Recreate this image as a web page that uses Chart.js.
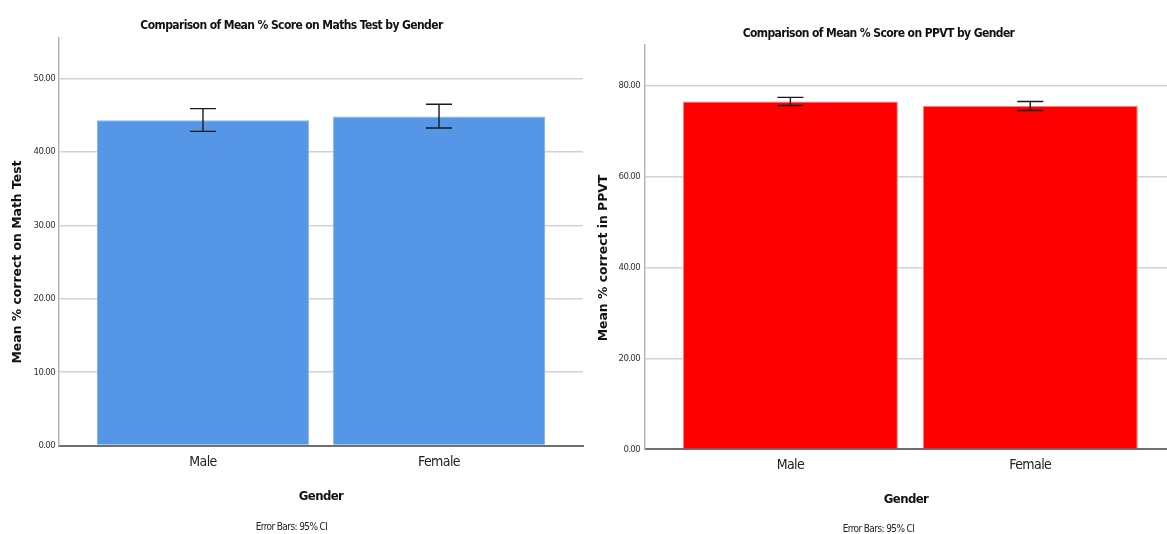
<!DOCTYPE html>
<html>
<head>
<meta charset="utf-8">
<script src="https://cdn.jsdelivr.net/npm/chart.js@4.4.1/dist/chart.umd.min.js"></script>
<style>
  html, body { margin: 0; padding: 0; background: #fff; }
  body { width: 1167px; height: 534px; position: relative; overflow: hidden; }
  .box { position: absolute; top: 0; height: 534px; }
  #boxA { left: 0; width: 590px; }
  #boxB { left: 590px; width: 577px; }
</style>
</head>
<body>
<div class="box" id="boxA"><canvas id="chartA"></canvas></div>
<div class="box" id="boxB"><canvas id="chartB"></canvas></div>
<script>
// ---------- data ----------
const categories = ['Male', 'Female'];

const mathMeans  = [44.30, 44.84];
const mathCILow  = [42.80, 43.26];
const mathCIHigh = [45.90, 46.50];
const mathTicks  = [0, 10, 20, 30, 40, 50];
const mathTickLabels = ['0.00', '10.00', '20.00', '30.00', '40.00', '50.00'];

const ppvtMeans  = [76.50, 75.50];
const ppvtCILow  = [75.60, 74.50];
const ppvtCIHigh = [77.40, 76.50];
const ppvtTicks  = [0, 20, 40, 60, 80];
const ppvtTickLabels = ['0.00', '20.00', '40.00', '60.00', '80.00'];

// ---------- styling ----------
const NARROW = "'Liberation Sans Narrow', 'DejaVu Sans Condensed', 'Roboto Condensed', 'Liberation Sans', sans-serif";
const WIDE = "'DejaVu Sans', Verdana, sans-serif";

const tightTextPlugin = {
  id: 'tightText',
  beforeDraw(chart) { try { chart.ctx.letterSpacing = '-0.6px'; } catch (e) {} },
  afterDraw(chart) { try { chart.ctx.letterSpacing = '0px'; } catch (e) {} }
};

const errorBarsPlugin = {
  id: 'errorBars',
  afterDatasetsDraw(chart, args, opts) {
    const { ctx, scales: { x, y } } = chart;
    ctx.save();
    ctx.strokeStyle = opts.color;
    ctx.lineWidth = opts.lineWidth;
    opts.low.forEach((lo, i) => {
      const px = x.getPixelForValue(i);
      const yl = y.getPixelForValue(lo);
      const yh = y.getPixelForValue(opts.high[i]);
      const hw = opts.capWidth / 2;
      ctx.beginPath();
      ctx.moveTo(px, yl); ctx.lineTo(px, yh);
      ctx.moveTo(px - hw, yl); ctx.lineTo(px + hw, yl);
      ctx.moveTo(px - hw, yh); ctx.lineTo(px + hw, yh);
      ctx.stroke();
    });
    ctx.restore();
  }
};

const yTitlePlugin = {
  id: 'yTitle',
  afterDraw(chart, args, opts) {
    const { ctx } = chart;
    ctx.save();
    try { ctx.letterSpacing = '0px'; } catch (e) {}
    ctx.translate(opts.x, opts.y);
    ctx.rotate(-Math.PI / 2);
    ctx.font = opts.font;
    ctx.fillStyle = '#111';
    ctx.textAlign = 'center';
    ctx.textBaseline = 'middle';
    ctx.fillText(opts.text, 0, 0);
    ctx.restore();
  }
};

function makeChart(id, cfg) {
  const points = cfg.means.map((v, i) => ({ x: i, y: v }));
  return new Chart(document.getElementById(id), {
    type: 'bar',
    data: {
      datasets: [{
        data: points,
        backgroundColor: cfg.fill,
        borderColor: cfg.edge,
        borderWidth: 1,
        barPercentage: 1,
        categoryPercentage: cfg.barFrac
      }]
    },
    options: {
      responsive: true,
      maintainAspectRatio: false,
      animation: false,
      layout: { padding: { left: 0, right: cfg.padRight, top: 0, bottom: 0 } },
      plugins: {
        legend: { display: false },
        tooltip: { enabled: false },
        title: {
          display: true,
          text: cfg.title,
          color: '#111',
          font: { family: NARROW, size: 12, weight: 'bold', lineHeight: 1.2 },
          padding: { top: cfg.titleTop, bottom: cfg.titleBottom }
        },
        subtitle: {
          display: true,
          position: 'bottom',
          text: 'Error Bars: 95% CI',
          color: '#222',
          font: { family: NARROW, size: 10, lineHeight: 1 },
          padding: { top: 0, bottom: cfg.subBottom }
        },
        errorBars: { low: cfg.low, high: cfg.high, color: '#1a1a1a', lineWidth: 1.4, capWidth: 26 },
        yTitle: { text: cfg.yTitle, x: cfg.yTitleX, y: cfg.yTitleY, font: "bold 12.4px " + WIDE }
      },
      scales: {
        x: {
          type: 'linear',
          offset: false,
          min: cfg.xMin,
          max: cfg.xMax,
          grid: { display: false, drawTicks: false, offset: false },
          border: { display: true, color: '#6f6f6f', width: 2 },
          afterBuildTicks: s => { s.ticks = categories.map((c, i) => ({ value: i })); },
          afterFit: s => { s.height = cfg.xAxisHeight; },
          ticks: {
            padding: cfg.xTickPad,
            color: '#222',
            font: { family: NARROW, size: 14 },
            callback: v => categories[v]
          },
          title: {
            display: true,
            text: 'Gender',
            color: '#111',
            font: { family: NARROW, size: 13, weight: 'bold', lineHeight: 1.2 },
            padding: { top: 0, bottom: cfg.xTitleBottom }
          }
        },
        y: {
          min: 0,
          max: cfg.yMax,
          afterBuildTicks: s => { s.ticks = cfg.ticks.map(v => ({ value: v })); },
          afterFit: s => { s.width = cfg.yAxisWidth; },
          grid: {
            drawTicks: false,
            color: ctx => (ctx.tick && ctx.tick.value === 0) ? 'rgba(0,0,0,0)' : '#d2d2d2',
            lineWidth: 1.5
          },
          border: { display: true, color: '#b5b5b5', width: 1.5 },
          ticks: {
            padding: cfg.yTickPad,
            color: '#333',
            font: { family: NARROW, size: 9.5 },
            callback: v => cfg.tickLabels[cfg.ticks.indexOf(v)]
          }
        }
      }
    },
    plugins: [tightTextPlugin, errorBarsPlugin, yTitlePlugin]
  });
}

makeChart('chartA', {
  title: 'Comparison of Mean % Score on Maths Test by Gender',
  yTitle: 'Mean % correct on Math Test',
  means: mathMeans, low: mathCILow, high: mathCIHigh,
  ticks: mathTicks, tickLabels: mathTickLabels,
  fill: '#5596e6', edge: '#86b3ee',
  barFrac: 0.898,
  xMin: -0.61, xMax: 1.61, yMax: 55.6,
  padRight: 7,
  titleTop: 19, titleBottom: 4,
  subBottom: 1.5,
  xAxisHeight: 77, xTickPad: 8, xTitleBottom: 18.5,
  yAxisWidth: 59, yTickPad: 4,
  yTitleX: 18, yTitleY: 262
});

makeChart('chartB', {
  title: 'Comparison of Mean % Score on PPVT by Gender',
  yTitle: 'Mean % correct in PPVT',
  means: ppvtMeans, low: ppvtCILow, high: ppvtCIHigh,
  ticks: ppvtTicks, tickLabels: ppvtTickLabels,
  fill: '#ff0000', edge: '#ff8080',
  barFrac: 0.896,
  xMin: -0.606, xMax: 1.57, yMax: 89,
  padRight: 0,
  titleTop: 26.6, titleBottom: 3.6,
  subBottom: 0,
  xAxisHeight: 74.7, xTickPad: 8, xTitleBottom: 17,
  yAxisWidth: 55, yTickPad: 5,
  yTitleX: 14, yTitleY: 258
});
</script>
</body>
</html>
